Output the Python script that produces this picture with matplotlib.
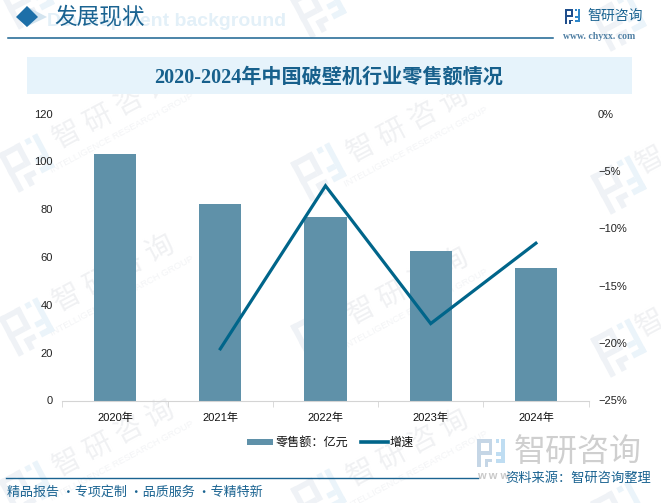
import matplotlib
matplotlib.use("Agg")
import matplotlib.pyplot as plt
import matplotlib.transforms as tr
from matplotlib.patches import Rectangle, Polygon

years = ["2020年", "2021年", "2022年", "2023年", "2024年"]
retail = [103.0, 82.1, 76.7, 62.5, 55.4]
growth_years = [1, 2, 3, 4]
growth = [-20.5, -6.3, -18.3, -11.3]
left_ticks = [0, 20, 40, 60, 80, 100, 120]
right_ticks = [0, -5, -10, -15, -20, -25]

W, H = 661, 503
CJK = ["Noto Sans CJK SC", "DejaVu Sans"]
SERIF = ["Liberation Serif", "Noto Sans CJK SC"]
LAT = ["Liberation Sans", "Noto Sans CJK SC"]
BAR = "#5F91A9"
LINE = "#00658A"
DARK = "#1A6391"

fig = plt.figure(figsize=(W / 100, H / 100), dpi=100, facecolor="white")
bg = fig.add_axes([0, 0, 1, 1])
bg.set_xlim(0, W)
bg.set_ylim(H, 0)
bg.axis("off")


def logo(ax, x, y, s, c1, c2, rot=0, z=1, centre=False):
    t = tr.Affine2D()
    if centre:
        t = t.translate(-.5, -.5)
    t = t.scale(s).rotate_deg(rot).translate(x, y) + ax.transData
    dark = [(0, 0, .55, .13), (0, 0, .13, 1), (0, .43, .42, .13), (.42, 0, .13, .56), (.28, .7, .27, .13), (.28, .7, .13, .3)]
    light = [(.67, .72, .33, .14), (.87, 0, .13, .86), (.67, .48, .2, .13), (.67, 0, .13, .13)]
    for parts, col in ((dark, c1), (light, c2)):
        for px, py, pw, ph in parts:
            ax.add_patch(Rectangle((px, py), pw, ph, fc=col, ec="none", transform=t, zorder=z))


# watermarks
marks = [(114, 111), (114, 274), (114, 439), (408, 125), (408, 287), (408, 449)]
for mx, my in marks:
    bg.text(mx, my, "智 研 咨 询", family=CJK, fontsize=20.5, color="#F0F1F3", rotation=28,
            ha="center", va="center", rotation_mode="anchor", zorder=1)
    bg.text(mx + 8, my + 22, "INTELLIGENCE RESEARCH GROUP", family=LAT, fontsize=6.8, color="#F3F4F6",
            rotation=28, ha="center", va="center", rotation_mode="anchor", zorder=1)
for wx, wy in [(651, 160), (651, 323)]:
    bg.text(wx, wy, "智", family=CJK, fontsize=20.5, color="#F0F1F3", rotation=28,
            ha="center", va="center", rotation_mode="anchor", zorder=1)
for lx, ly in [(28, 0), (28, 163), (28, 327), (28, 490), (320, 9), (320, 172), (320, 335), (320, 498),
               (620, 22), (620, 185), (620, 348), (620, 511)]:
    logo(bg, lx, ly, 44, "#EFF2F6", "#EBF4FA", rot=-28, centre=True)

# header
bg.text(47, 21, "Development background", family=LAT, fontsize=14, weight="bold", color="#E3F0F8",
        ha="left", va="center", zorder=2)
bg.add_patch(Polygon([(26, 6), (47, 17), (26, 27), (30, 17)], fc="#D3E4EF", ec="none", zorder=2))
bg.add_patch(Polygon([(16, 17), (27, 6), (38, 17), (27, 27)], fc="#1D6FA8", ec="none", zorder=3))
bg.text(54.5, 17, "发展现状", family=CJK, fontsize=16.3, color=DARK, ha="left", va="center", zorder=4)
bg.plot([8, 553], [37.5, 37.5], color=DARK, lw=1.1, zorder=3)
logo(bg, 565, 9, 15, "#1F4E8C", "#2E86C9", z=4)
bg.text(587, 16, "智研咨询", family=CJK, fontsize=10, color=DARK, ha="left", va="center", zorder=4)
bg.text(563, 36, "www. chyxx. com", family=["Liberation Serif"], fontsize=7, weight="bold", color="#4F7FA3",
        ha="left", va="center", zorder=4)

# title band
bg.add_patch(Rectangle((27, 57), 604.5, 37, fc="#E6F3FB", ec="none", zorder=2))
bg.text(329, 78, "2020-2024年中国破壁机行业零售额情况", family=SERIF, fontsize=14.5, weight="bold",
        color="#17608C", ha="center", va="center", zorder=3)

# chart
x0, x1, ytop, ybot = 62.5, 588.5, 113.5, 400.5
ax = fig.add_axes([x0 / W, 1 - ybot / H, (x1 - x0) / W, (ybot - ytop) / H])
ax.patch.set_alpha(0)
ax.bar(range(5), retail, width=0.4, color=BAR, zorder=2)
ax.set_xlim(-0.5, 4.5)
ax.set_ylim(0, 120)
ax.set_yticks(left_ticks)
ax.set_xticks(range(5), years, family=LAT, fontsize=8, color="#111111")
ax.set_xticks([i - 0.5 for i in range(6)], minor=True)
ax.tick_params(axis="x", which="major", length=0, pad=8.5)
ax.tick_params(axis="x", which="minor", length=4, color="#D4D4D4", direction="out")
ax.tick_params(axis="y", length=0, pad=7, labelsize=8, labelcolor="#222222")
for l in ax.get_yticklabels():
    l.set_family(LAT)
for s in ["top", "left", "right"]:
    ax.spines[s].set_visible(False)
ax.spines["bottom"].set_color("#D4D4D4")

ax2 = ax.twinx()
ax2.patch.set_alpha(0)
ax2.plot(growth_years, growth, color=LINE, lw=2.3, solid_joinstyle="miter", zorder=3)
ax2.set_ylim(-25, 0)
ax2.set_yticks(right_ticks, [f"{v}%".replace("-", "−") for v in right_ticks], family=LAT, fontsize=8, color="#222222")
ax2.tick_params(axis="y", length=0, pad=6.8)
for s in ax2.spines.values():
    s.set_visible(False)

# legend
fg = fig.add_axes([0, 0, 1, 1])
fg.set_xlim(0, W)
fg.set_ylim(H, 0)
fg.axis("off")
fg.add_patch(Rectangle((247, 439), 26, 6, fc=BAR, ec="none"))
fg.text(275.5, 442, "零售额：亿元", family=CJK, fontsize=8.7, color="#111111", ha="left", va="center")
fg.plot([361, 388], [441.5, 441.5], color=LINE, lw=2.6)
fg.text(390, 442, "增速", family=CJK, fontsize=8.7, color="#111111", ha="left", va="center")

# footer
logo(fg, 477, 439, 28, "#C5D6E6", "#BFDDF2", z=1)
fg.text(514, 452, "智研咨询", family=CJK, fontsize=23, color="#CFCFCF", ha="left", va="center", zorder=1)
fg.text(477, 476, "w w w", family=LAT, fontsize=8, weight="bold", color="#C9C9C9",
        ha="left", va="center", zorder=1)
fg.plot([6, 478], [477.5, 477.5], color=DARK, lw=1.0, zorder=2)
fg.text(505, 478, "资料来源：智研咨询整理", family=CJK, fontsize=9.5, color=DARK, ha="left", va="center", zorder=3)
fg.text(7, 492, "精品报告 ·专项定制 ·品质服务 ·专精特新", family=CJK, fontsize=9.4, color=DARK,
        ha="left", va="center", zorder=3)

fig.savefig("out.png", dpi=100)
